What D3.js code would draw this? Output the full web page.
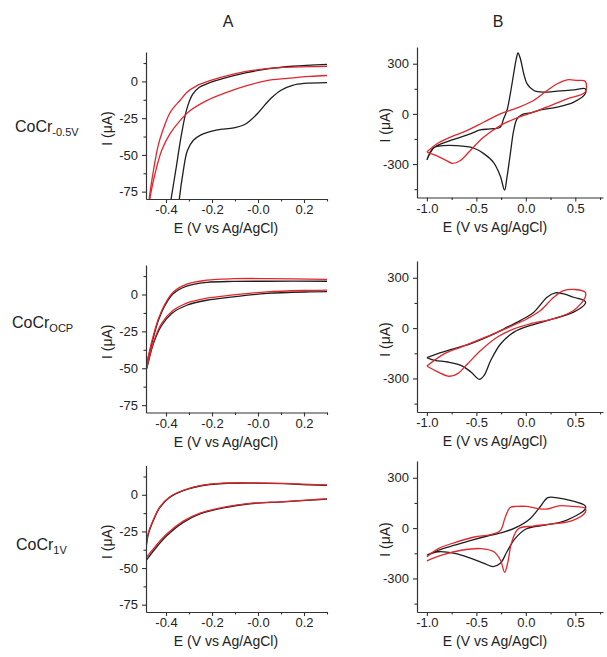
<!DOCTYPE html>
<html>
<head>
<meta charset="utf-8">
<script src="https://cdn.jsdelivr.net/npm/d3@7"></script>
<style>
  body { margin: 0; background: #fff; }
  svg text { font-family: Arial, "Liberation Sans", sans-serif; fill: #222; }
</style>
</head>
<body>
<svg id="chart" width="607" height="657"></svg>
<script>
// ---- column A (E from -0.48 to 0.3 V), each branch as [E, I] ----
const a1BlackUp = [[-0.39,-92],[-0.378,-80],[-0.355,-58],[-0.335,-38],[-0.31,-19],[-0.285,-9],[-0.255,-4],[-0.22,-1.5],[-0.15,2],[-0.05,6],[0.05,8.7],[0.15,10.3],[0.3,11.6]];
const a1BlackDown = [[-0.348,-92],[-0.342,-80],[-0.325,-61],[-0.307,-47],[-0.281,-40],[-0.25,-36.5],[-0.2,-33.8],[-0.15,-32.4],[-0.1,-31.5],[-0.06,-29.5],[-0.035,-26.7],[0.0,-21.5],[0.03,-16],[0.06,-11],[0.1,-6],[0.15,-2.7],[0.2,-1.4],[0.3,-0.8]];
const a1RedUp = [[-0.478,-92],[-0.473,-80],[-0.455,-61],[-0.433,-43],[-0.404,-29],[-0.385,-22],[-0.368,-18],[-0.339,-13],[-0.31,-7.5],[-0.267,-3],[-0.209,0.5],[-0.107,5],[-0.006,7.9],[0.11,9.5],[0.226,10],[0.3,10.3]];
const a1RedDown = [[-0.476,-92],[-0.47,-80],[-0.448,-63],[-0.419,-47],[-0.383,-35.7],[-0.339,-26.7],[-0.296,-20],[-0.223,-13.1],[-0.136,-7.5],[-0.049,-2.9],[0.038,0.5],[0.125,2],[0.226,3.4],[0.3,4]];

const a2BlackUp = [[-0.487,-49],[-0.484,-47],[-0.462,-33.4],[-0.433,-17.5],[-0.404,-7.3],[-0.368,0.7],[-0.31,5.7],[-0.223,8.2],[-0.107,8.9],[0.038,9],[0.3,9]];
const a2BlackDown = [[-0.487,-51],[-0.484,-50],[-0.455,-33.4],[-0.419,-21],[-0.375,-12.9],[-0.31,-7.3],[-0.223,-3.9],[-0.107,-1.6],[0.038,0.7],[0.226,1.8],[0.3,2]];
const a2RedUp = [[-0.487,-50],[-0.462,-32],[-0.433,-16.5],[-0.404,-6.3],[-0.368,1.7],[-0.31,7],[-0.223,9.7],[-0.107,10.7],[0.038,10.8],[0.3,10.3]];
const a2RedDown = [[-0.487,-52],[-0.455,-32.5],[-0.419,-19.5],[-0.375,-11.5],[-0.31,-5.8],[-0.223,-2.5],[-0.107,-0.3],[0.038,1.8],[0.226,2.8],[0.3,3]];

const a3BlackUp = [[-0.487,-37],[-0.477,-27],[-0.455,-17.5],[-0.426,-8.5],[-0.383,-1.7],[-0.325,2.8],[-0.252,6],[-0.151,7.7],[-0.035,8],[0.11,7.6],[0.226,6.8],[0.3,6.5]];
const a3BlackDown = [[-0.487,-45],[-0.448,-37],[-0.397,-28],[-0.325,-18.8],[-0.252,-13],[-0.136,-8.5],[-0.035,-6.1],[0.11,-4.8],[0.226,-3.6],[0.3,-3]];
const a3RedUp = [[-0.487,-35],[-0.477,-26],[-0.455,-16.8],[-0.426,-8],[-0.383,-1.3],[-0.325,3.1],[-0.252,6.3],[-0.151,8],[-0.035,8.2],[0.11,7.8],[0.226,7.1],[0.3,6.8]];
const a3RedDown = [[-0.487,-43],[-0.448,-35.5],[-0.397,-26.8],[-0.325,-18],[-0.252,-12.5],[-0.136,-8.1],[-0.035,-5.9],[0.11,-4.6],[0.226,-3.4],[0.3,-2.8]];

// ---- column B (full loops, -1.0 -> 0.6 -> -1.0 V) ----
const b1Black = [[-1.0,-276],[-0.922,-200],[-0.837,-190],[-0.7,-190],[-0.531,-204],[-0.429,-236],[-0.327,-290],[-0.259,-370],[-0.215,-456],[-0.191,-380],[-0.157,-240],[-0.123,-100],[-0.089,-30],[-0.038,-4],[0.047,6],[0.147,24],[0.317,40],[0.485,70],[0.6,120],
  [0.6,150],[0.485,144],[0.317,136],[0.183,130],[0.081,140],[0.013,180],[-0.021,240],[-0.055,330],[-0.079,364],[-0.096,330],[-0.123,240],[-0.157,120],[-0.191,20],[-0.225,-30],[-0.259,-80],[-0.36,-90],[-0.462,-96],[-0.563,-120],[-0.766,-160],[-0.936,-204],[-1.0,-276]];
const b1Red = [[-1.0,-228],[-0.902,-250],[-0.8,-280],[-0.739,-296],[-0.665,-280],[-0.563,-220],[-0.428,-140],[-0.259,-70],[-0.089,-24],[0.079,10],[0.249,50],[0.418,90],[0.6,130],
  [0.6,195],[0.517,200],[0.418,204],[0.317,180],[0.215,140],[0.079,80],[-0.089,36],[-0.259,0],[-0.428,-50],[-0.597,-100],[-0.766,-140],[-0.902,-180],[-1.0,-228]];

const b2Black = [[-1.0,-176],[-0.923,-192],[-0.789,-202],[-0.656,-222],[-0.555,-261],[-0.471,-305],[-0.421,-281],[-0.354,-192],[-0.254,-93],[-0.12,-24],[0.047,16],[0.282,56],[0.483,95],[0.6,145],
  [0.6,160],[0.483,184],[0.383,204],[0.298,210],[0.215,184],[0.081,95],[-0.053,46],[-0.22,-4],[-0.388,-53],[-0.555,-93],[-0.722,-122],[-0.89,-152],[-1.0,-176]];
const b2Red = [[-1.0,-226],[-0.89,-261],[-0.772,-287],[-0.689,-271],[-0.588,-212],[-0.454,-132],[-0.287,-53],[-0.12,-4],[0.047,26],[0.282,56],[0.483,105],[0.6,184],
  [0.6,214],[0.5,230],[0.383,224],[0.282,184],[0.148,105],[0.014,56],[-0.154,10],[-0.32,-33],[-0.488,-73],[-0.656,-113],[-0.822,-152],[-1.0,-226]];

const b3Black = [[-1.0,-161],[-0.884,-141],[-0.719,-151],[-0.554,-181],[-0.422,-210],[-0.33,-229],[-0.257,-210],[-0.191,-141],[-0.109,-63],[0.007,-4],[0.205,19],[0.403,45],[0.6,113],
  [0.6,133],[0.469,162],[0.304,182],[0.222,182],[0.139,123],[0.04,55],[-0.092,6],[-0.224,-24],[-0.389,-47],[-0.554,-73],[-0.719,-102],[-0.884,-132],[-1.0,-161]];
const b3Red = [[-1.0,-195],[-0.851,-161],[-0.653,-132],[-0.455,-122],[-0.323,-141],[-0.257,-190],[-0.214,-263],[-0.184,-210],[-0.142,-82],[-0.075,-4],[0.073,12],[0.271,25],[0.469,45],[0.6,94],
  [0.6,118],[0.469,129],[0.337,133],[0.205,113],[0.106,118],[0.007,129],[-0.092,129],[-0.158,123],[-0.208,65],[-0.257,-14],[-0.356,-39],[-0.521,-53],[-0.719,-86],[-0.884,-122],[-1.0,-171]];

// ---- ticks and labels ----
const aCurrentTicks = [0, -25, -50, -75];
const aCurrentMinor = [12.5, -12.5, -37.5, -62.5];
const aPotentialTicks = [-0.4, -0.2, 0.0, 0.2];
const aPotentialLabels = ["-0.4", "-0.2", "-0.0", "0.2"];
const aPotentialMinor = [-0.3, -0.1, 0.1, 0.3];
const bCurrentTicks = [300, 0, -300];
const bCurrentMinor = [150, -150, -450];
const bPotentialTicks = [-1.0, -0.5, 0.0, 0.5];
const bPotentialLabels = ["-1.0", "-0.5", "0.0", "0.5"];
const bPotentialMinor = [-0.75, -0.25, 0.25, 0.75];
const rowNames = ["CoCr", "CoCr", "CoCr"];
const rowSubs = ["-0.5V", "OCP", "1V"];
const columnTitles = ["A", "B"];

const BLACK = "#1e1e1e", RED = "#e2262c", AXIS = "#333";

const svg = d3.select("#chart");

const cols = [
  { xDomain: [-0.487, 0.3], xRange: [146, 327], yDomain: [-80, 20],
    yTicks: aCurrentTicks, yMinor: aCurrentMinor,
    xTicks: aPotentialTicks, xLabels: aPotentialLabels, xMinor: aPotentialMinor,
    xTitleX: 226, yTitleX: 107, titleX: 228 },
  { xDomain: [-1.1, 0.78], xRange: [417, 603], yDomain: [-500, 400],
    yTicks: bCurrentTicks, yMinor: bCurrentMinor,
    xTicks: bPotentialTicks, xLabels: bPotentialLabels, xMinor: bPotentialMinor,
    xTitleX: 495, yTitleX: 385, titleX: 498 }
];

const panels = [
  { col: 0, row: 0, yRange: [199, 52], curves: [[a1BlackUp, BLACK], [a1BlackDown, BLACK], [a1RedUp, RED], [a1RedDown, RED]] },
  { col: 0, row: 1, yRange: [412.5, 265], curves: [[a2BlackUp, BLACK], [a2BlackDown, BLACK], [a2RedUp, RED], [a2RedDown, RED]] },
  { col: 0, row: 2, yRange: [612, 465.5], curves: [[a3BlackUp, BLACK], [a3BlackDown, BLACK], [a3RedUp, RED], [a3RedDown, RED]] },
  { col: 1, row: 0, yRange: [197.5, 47], curves: [[b1Black, BLACK], [b1Red, RED]] },
  { col: 1, row: 1, yRange: [412, 261], curves: [[b2Black, BLACK], [b2Red, RED]] },
  { col: 1, row: 2, yRange: [612, 461], curves: [[b3Black, BLACK], [b3Red, RED]] }
];

const rowLabelPos = [[15, 132], [12, 328], [16, 550]];

function styleAxis(g) {
  g.selectAll(".domain").attr("stroke", AXIS).attr("stroke-width", 1.2);
  g.selectAll(".tick line").attr("stroke", AXIS).attr("stroke-width", 1.1);
  g.attr("font-family", "Arial, 'Liberation Sans', sans-serif").attr("font-size", 13);
  g.selectAll(".tick text").attr("fill", "#222");
}

panels.forEach((p, pi) => {
  const c = cols[p.col];
  const x = d3.scaleLinear().domain(c.xDomain).range(c.xRange);
  const y = d3.scaleLinear().domain(c.yDomain).range(p.yRange);
  const g = svg.append("g");

  const clipId = "clip" + pi;
  svg.append("clipPath").attr("id", clipId)
    .append("rect")
    .attr("x", c.xRange[0]).attr("y", p.yRange[1])
    .attr("width", c.xRange[1] - c.xRange[0])
    .attr("height", p.yRange[0] - p.yRange[1]);

  const line = d3.line()
    .x(d => x(d[0]))
    .y(d => y(d[1]))
    .curve(d3.curveCatmullRom.alpha(0.5));

  g.append("g").attr("clip-path", `url(#${clipId})`)
    .selectAll("path")
    .data(p.curves)
    .enter().append("path")
    .attr("d", d => line(d[0]))
    .attr("fill", "none")
    .attr("stroke", d => d[1])
    .attr("stroke-width", 1.3)
    .attr("stroke-linejoin", "round");

  // y axis
  const yAxis = g.append("g")
    .attr("transform", `translate(${c.xRange[0]},0)`)
    .call(d3.axisLeft(y).tickValues(c.yTicks).tickFormat(d => String(d)).tickSize(4).tickSizeOuter(0).tickPadding(4));
  styleAxis(yAxis);
  const yMinor = g.append("g")
    .attr("transform", `translate(${c.xRange[0]},0)`)
    .call(d3.axisLeft(y).tickValues(c.yMinor.filter(v => v >= c.yDomain[0] && v <= c.yDomain[1])).tickFormat("").tickSize(2.5));
  yMinor.select(".domain").remove();
  styleAxis(yMinor);

  // x axis
  const xAxis = g.append("g")
    .attr("transform", `translate(0,${p.yRange[0]})`)
    .call(d3.axisBottom(x).tickValues(c.xTicks).tickFormat((d, i) => c.xLabels[i]).tickSize(4).tickSizeOuter(0).tickPadding(2));
  styleAxis(xAxis);
  const xMinor = g.append("g")
    .attr("transform", `translate(0,${p.yRange[0]})`)
    .call(d3.axisBottom(x).tickValues(c.xMinor).tickFormat("").tickSize(2.5));
  xMinor.select(".domain").remove();
  styleAxis(xMinor);

  // axis titles
  g.append("text")
    .attr("x", c.xTitleX)
    .attr("y", p.yRange[0] + 34)
    .attr("text-anchor", "middle")
    .attr("font-size", 14)
    .text("E (V vs Ag/AgCl)");

  const yMid = (p.yRange[0] + p.yRange[1]) / 2 + 3;
  g.append("text")
    .attr("transform", `translate(${c.yTitleX},${yMid}) rotate(-90)`)
    .attr("text-anchor", "middle")
    .attr("dy", "0.35em")
    .attr("font-size", 14)
    .text("I (\u03bcA)");
});

// column titles
svg.selectAll(".coltitle")
  .data(columnTitles)
  .enter().append("text")
  .attr("class", "coltitle")
  .attr("x", (d, i) => cols[i].titleX)
  .attr("y", 27)
  .attr("text-anchor", "middle")
  .attr("font-size", 16)
  .text(d => d);

// row labels
rowNames.forEach((name, i) => {
  const t = svg.append("text")
    .attr("x", rowLabelPos[i][0])
    .attr("y", rowLabelPos[i][1])
    .attr("font-size", 16);
  t.append("tspan").text(name);
  t.append("tspan").attr("font-size", 11).attr("dy", 4).text(rowSubs[i]);
});
</script>
</body>
</html>
